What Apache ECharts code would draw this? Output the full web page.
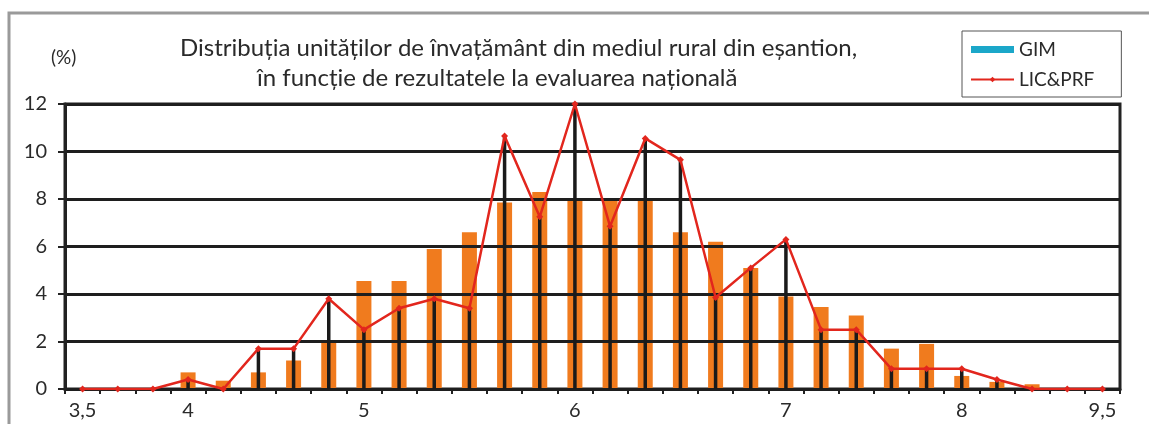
<!DOCTYPE html>
<html>
<head>
<meta charset="utf-8">
<script src="https://cdn.jsdelivr.net/npm/echarts@6.0.0/dist/echarts.min.js"></script>
<style>
  html, body { margin: 0; padding: 0; background: #fff; }
  #chart { width: 1149px; height: 424px; }
</style>
</head>
<body>
<div id="chart"></div>
<script>
// score bins on the x axis, only some of them carry a label
const categories = ['b01','b02','b03','b04','b05','b06','b07','b08','b09','b10',
  'b11','b12','b13','b14','b15','b16','b17','b18','b19','b20',
  'b21','b22','b23','b24','b25','b26','b27','b28','b29','b30'];
const tickLabels = ['3,5','','','4','','','','','5','',
  '','','','','6','','','','','',
  '7','','','','','8','','','','9,5'];

// % of schools per bin
const gim = [0, 0, 0, 0.7, 0.35, 0.7, 1.2, 2.0, 4.55, 4.55,
  5.9, 6.6, 7.85, 8.3, 8.0, 8.0, 8.0, 6.6, 6.2, 5.1,
  3.9, 3.45, 3.1, 1.7, 1.9, 0.55, 0.3, 0.2, 0, 0];
const licPrf = [0, 0, 0, 0.4, 0, 1.7, 1.7, 3.8, 2.5, 3.4,
  3.8, 3.4, 10.65, 7.25, 12.0, 6.85, 10.55, 9.65, 3.85, 5.1,
  6.3, 2.5, 2.5, 0.85, 0.85, 0.85, 0.4, 0, 0, 0];

const yTicks = [0, 2, 4, 6, 8, 10, 12];

const font = 'Lato, "Open Sans", sans-serif';
const ink = '#2a2a2a';

const chart = echarts.init(document.getElementById('chart'));
chart.setOption({
  animation: false,
  backgroundColor: '#fff',
  textStyle: { fontFamily: font, color: ink },
  graphic: [
    {
      type: 'rect', silent: true, z: -10,
      shape: { x: 9, y: 13, width: 1160, height: 440 },
      style: { fill: 'none', stroke: '#9a9a9a', lineWidth: 3 }
    },
    {
      type: 'text', left: 180, top: 36,
      style: { text: 'Distribuția unităților de învațământ din mediul rural din eșantion,', font: '24px ' + font, fill: ink }
    },
    {
      type: 'text', left: 257, top: 66,
      style: { text: 'în funcție de rezultatele la evaluarea națională', font: '24px ' + font, fill: ink }
    },
    {
      type: 'text', left: 51, top: 48,
      style: { text: '(%)', font: '19px ' + font, fill: ink }
    }
  ],
  legend: {
    orient: 'vertical',
    left: 962, top: 31,
    padding: [9, 27, 8, 8],
    itemGap: 11,
    itemWidth: 43, itemHeight: 7,
    borderColor: '#555', borderWidth: 1,
    textStyle: { fontFamily: font, fontSize: 19, color: ink },
    data: [
      { name: 'GIM', icon: 'rect', itemStyle: { color: '#1ba7c9' } },
      { name: 'LIC&PRF' }
    ]
  },
  grid: {
    left: 65, right: 29, top: 104, bottom: 35,
    show: true, borderColor: '#222', borderWidth: 3,
    backgroundColor: 'transparent'
  },
  xAxis: [
    {
      type: 'category', data: categories,
      axisLine: { lineStyle: { color: '#222', width: 3 } },
      axisTick: { show: true, length: 5, lineStyle: { color: '#222', width: 2 } },
      axisLabel: {
        interval: 0, margin: 12, fontSize: 20, fontFamily: font, color: ink,
        formatter: (v, i) => tickLabels[i]
      }
    },
    { type: 'category', data: categories, show: false }
  ],
  yAxis: {
    type: 'value', min: 0, max: 12, interval: 2, z: 3,
    axisLine: { show: true, lineStyle: { color: '#222', width: 3 } },
    axisTick: { show: true, length: 7, lineStyle: { color: '#222', width: 2 } },
    axisLabel: {
      margin: 18, fontSize: 20, fontFamily: font, color: ink,
      formatter: v => yTicks.includes(v) ? String(v) : ''
    },
    splitLine: { lineStyle: { color: '#1e1e1e', width: 3 } }
  },
  series: [
    {
      name: 'GIM', type: 'bar', data: gim, z: 1,
      barWidth: 15, itemStyle: { color: '#f07b1e' }
    },
    {
      name: 'drop', type: 'bar', data: licPrf, xAxisIndex: 1, z: 4,
      barWidth: 3.5, itemStyle: { color: '#1a1a1a' }
    },
    {
      name: 'LIC&PRF', type: 'line', data: licPrf, z: 5,
      symbol: 'diamond', symbolSize: 7,
      lineStyle: { color: '#e2261d', width: 2.5 },
      itemStyle: { color: '#e2261d' }
    }
  ]
});
</script>
</body>
</html>
